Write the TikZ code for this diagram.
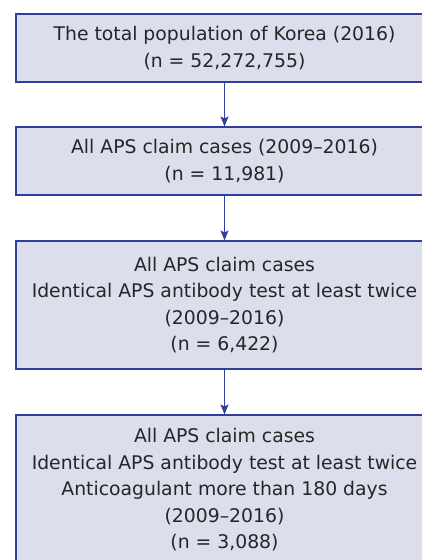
\documentclass[tikz,border=0pt]{standalone}
\usepackage{fontspec}
\setmainfont{DejaVu Sans}
\definecolor{boxfill}{HTML}{DCDEEC}
\definecolor{boxline}{HTML}{2E3F9E}
\definecolor{txt}{HTML}{262626}
\usetikzlibrary{arrows.meta}
\begin{document}
\begin{tikzpicture}[x=1pt,y=-1pt,
  stagebox/.style={draw=boxline,fill=boxfill,line width=1.1pt,minimum width=417pt,
    inner sep=0pt,align=center,text=txt,
    font=\fontsize{18.8}{26.5}\selectfont},
  flow/.style={draw=boxline,line width=1.1pt,-{Stealth[length=10pt,width=8pt,inset=2pt]}}]
\useasboundingbox (0,0) rectangle (422,560);
\clip (0,0) rectangle (422,560);
\node[stagebox,minimum height=68pt] (b1) at (224.5,48) {The total population of Korea (2016)\\(n = 52,272,755)};
\node[stagebox,minimum height=68pt] (b2) at (224.5,161) {All APS claim cases (2009–2016)\\(n = 11,981)};
\node[stagebox,minimum height=128pt] (b3) at (224.5,305) {All APS claim cases\\Identical APS antibody test at least twice\\(2009–2016)\\(n = 6,422)};
\node[stagebox,minimum height=150pt] (b4) at (224.5,490) {All APS claim cases\\Identical APS antibody test at least twice\\Anticoagulant more than 180 days\\(2009–2016)\\(n = 3,088)};
\draw[flow] (b1) -- (b2);
\draw[flow] (b2) -- (b3);
\draw[flow] (b3) -- (b4);
\end{tikzpicture}
\end{document}
